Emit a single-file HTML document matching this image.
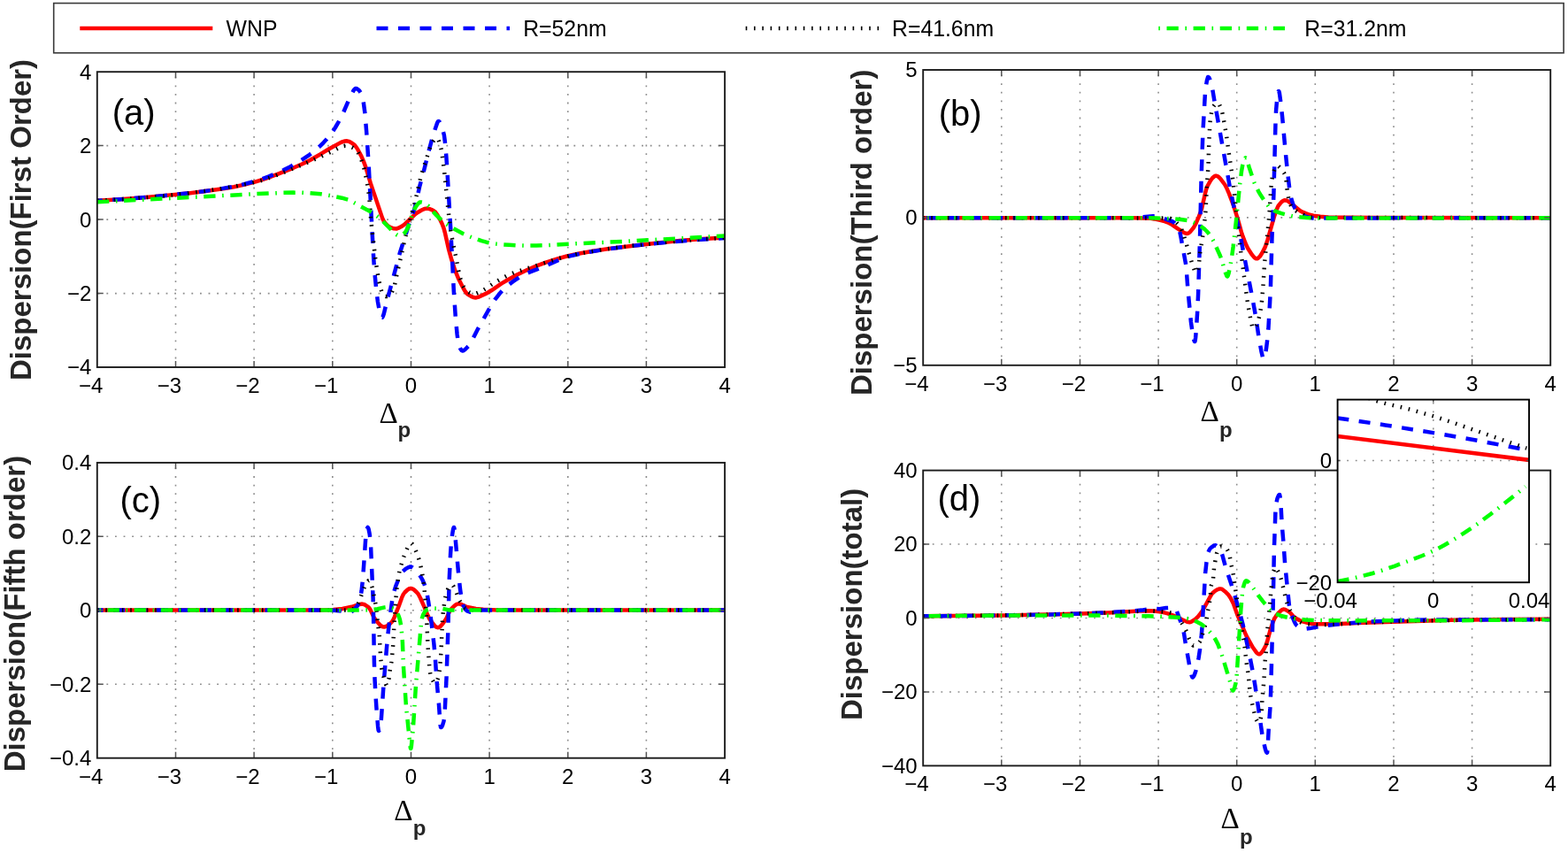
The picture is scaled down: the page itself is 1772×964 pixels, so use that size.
<!DOCTYPE html><html><head><meta charset="utf-8"><title>Dispersion</title><style>html,body{margin:0;padding:0;background:#fff;overflow:hidden;width:1772px;height:964px;}svg{display:block;}</style></head><body>
<svg width="1772" height="964" viewBox="0 0 1772 964" font-family="'Liberation Sans', Arial, sans-serif">
<rect width="1772" height="964" fill="#fff"/>
<defs>
<clipPath id="clipa"><rect x="109.8" y="81.2" width="709.3" height="333.8"/></clipPath>
<clipPath id="clipb"><rect x="1043.2" y="79.0" width="709.0" height="333.8"/></clipPath>
<clipPath id="clipc"><rect x="109.8" y="522.9" width="709.3" height="333.8"/></clipPath>
<clipPath id="clipd"><rect x="1043.2" y="531.6" width="709.0" height="333.8"/></clipPath>
<clipPath id="clipi"><rect x="1511.6" y="451.6" width="216.4" height="206.6"/></clipPath>
</defs>
<rect x="60.7" y="3.6" width="1706.4" height="56.2" fill="#fff" stroke="#3a3a3a" stroke-width="1.6"/>
<line x1="90.3" y1="32.1" x2="240.3" y2="32.1" stroke="#ff0000" stroke-width="4.5"/>
<line x1="425.5" y1="32.1" x2="576" y2="32.1" stroke="#0000ff" stroke-width="4.5" stroke-dasharray="13 11.5"/>
<line x1="842.7" y1="32.1" x2="994" y2="32.1" stroke="#000" stroke-width="4.5" stroke-dasharray="1.6 7.7"/>
<line x1="1309.3" y1="32.1" x2="1452" y2="32.1" stroke="#00ff00" stroke-width="4.5" stroke-dasharray="1.6 7.6 13.3 7.6"/>
<text transform="translate(255.6 40.6) scale(1 1.07)" font-size="24.8">WNP</text>
<text transform="translate(591.2 40.6) scale(1 1.07)" font-size="24.8">R=52nm</text>
<text transform="translate(1008.0 40.6) scale(1 1.07)" font-size="24.8">R=41.6nm</text>
<text transform="translate(1474.3 40.6) scale(1 1.07)" font-size="24.8">R=31.2nm</text>
<path d="M198.5 405.4V82.2M287.1 405.4V82.2M375.8 405.4V82.2M464.5 405.4V82.2M553.1 405.4V82.2M641.8 405.4V82.2M730.4 405.4V82.2M110.8 331.6H818.1M110.8 248.1H818.1M110.8 164.6H818.1" stroke="#8c8c8c" stroke-width="1.6" stroke-dasharray="1.8 7.8" fill="none"/>
<g clip-path="url(#clipa)">
<path d="M110.0 226.8L132.2 225.5L156.5 223.7L184.5 221.3L212.7 218.4L232.2 216.1L250.2 213.6L264.2 211.2L276.4 208.6L288.9 205.4L299.4 202.1L312.9 197.1L331.4 189.8L341.7 185.3L349.9 181.2L362.2 174.2L372.4 168.0L384.9 161.1L387.4 160.1L389.7 159.5L391.7 159.3L393.4 159.6L395.1 160.2L397.1 161.3L400.1 163.3L401.1 164.3L403.9 168.2L408.4 176.6L410.9 182.4L413.1 188.3L418.9 207.4L431.9 245.9L432.9 248.3L433.9 250.2L436.1 253.1L438.1 255.1L439.4 256.0L440.9 256.8L445.1 258.3L447.9 258.5L450.4 257.7L454.9 255.2L456.9 253.8L468.4 242.8L470.9 240.7L476.4 237.5L480.1 235.9L482.9 235.6L485.9 236.2L487.9 237.1L490.1 238.3L491.4 239.1L492.4 240.2L494.4 243.1L497.6 248.7L499.6 253.0L501.4 257.6L503.1 263.9L507.1 281.9L510.4 293.8L514.1 305.1L518.1 314.9L523.6 325.8L525.4 328.7L527.1 331.1L528.6 332.6L532.4 334.9L534.9 336.0L536.8 336.4L538.8 336.2L541.3 335.5L550.1 331.4L555.3 328.3L566.8 320.4L572.1 317.3L584.3 310.5L595.8 305.0L606.6 300.4L616.8 296.6L629.3 292.6L640.6 289.5L654.6 286.5L670.3 283.7L688.5 281.0L709.3 278.4L743.5 274.5L767.8 272.1L794.5 270.0L820.0 268.4" fill="none" stroke="#ff0000" stroke-width="4.5" stroke-linejoin="round"/>
<path d="M110.0 226.8L142.0 224.9L178.7 221.8L215.2 218.1L230.2 216.2L244.2 214.2L264.4 210.8L272.4 209.0L280.9 206.8L288.9 204.6L296.2 202.2L303.9 199.3L312.4 195.8L320.7 192.1L327.9 188.4L335.7 184.1L343.4 179.2L349.9 174.8L355.7 170.4L360.9 165.8L365.7 161.1L369.2 157.3L372.7 153.0L375.9 148.7L378.7 144.5L382.7 137.6L387.9 127.5L394.9 111.2L399.1 103.1L400.4 101.1L401.4 100.2L402.1 100.0L403.4 100.3L404.9 101.3L406.4 102.9L408.1 105.5L409.4 108.0L410.6 114.3L412.4 127.6L414.1 148.1L416.6 185.1L421.9 286.6L423.1 305.1L425.4 328.7L426.9 340.8L428.6 350.0L429.9 355.3L430.9 358.0L431.4 358.7L431.9 358.8L432.4 358.3L432.9 357.3L433.9 354.3L436.9 341.7L451.6 286.8L463.6 249.1L467.9 237.5L469.1 233.6L474.1 211.2L479.6 190.7L485.1 168.7L489.1 154.0L490.9 148.3L494.1 138.9L495.1 137.2L495.9 137.1L496.9 137.9L497.9 139.5L499.9 145.0L501.9 152.8L502.9 160.4L504.4 177.4L505.4 192.4L509.4 260.9L512.9 330.3L514.9 359.6L516.6 377.7L517.9 387.1L518.6 389.9L520.1 393.8L521.4 395.8L522.4 396.5L523.9 396.2L525.6 395.0L529.4 391.1L531.1 388.8L533.6 384.5L539.8 372.2L554.8 345.7L559.3 338.7L565.6 330.7L568.6 327.4L571.3 324.7L575.6 321.2L580.1 317.9L584.6 314.9L589.1 312.2L593.8 309.7L598.3 307.6L616.8 300.5L632.6 293.4L639.1 290.9L644.1 289.4L651.1 287.7L666.1 284.7L681.0 282.3L695.8 280.2L711.3 278.2L727.5 276.5L754.8 273.8L778.3 271.8L799.8 270.2L820.0 269.0" fill="none" stroke="#0000ff" stroke-width="4.5" stroke-dasharray="13 11.5" stroke-dashoffset="7.25" stroke-linejoin="round"/>
<path d="M110.0 226.8L131.5 225.7L154.7 224.0L181.0 221.7L210.0 218.7L229.7 216.2L248.0 213.6L265.2 210.6L281.7 207.3L290.4 205.3L298.4 203.1L307.4 200.0L317.7 196.1L351.2 182.1L376.4 170.5L383.4 166.9L386.4 165.5L388.7 164.9L390.7 164.7L392.9 164.9L395.4 165.5L398.4 166.8L401.6 168.6L402.6 169.5L403.9 171.1L405.9 174.9L408.4 180.8L410.1 185.6L411.6 190.9L414.6 204.9L416.6 217.7L417.4 224.2L419.1 247.3L420.4 259.7L424.4 293.5L427.4 313.4L429.9 324.8L431.6 330.3L433.1 332.7L434.6 334.4L435.9 335.0L437.4 334.9L440.1 333.9L441.6 332.5L443.6 328.7L445.9 322.8L448.6 309.4L453.1 290.3L457.9 268.5L468.4 230.3L470.6 221.3L474.9 202.7L476.6 196.1L485.4 168.6L486.9 164.5L489.1 160.4L490.9 157.8L492.4 156.4L493.6 156.0L494.1 156.3L494.9 157.2L496.1 159.9L498.1 166.1L499.1 170.8L502.1 193.5L506.4 236.4L509.1 259.4L510.4 266.9L515.9 293.8L518.9 309.6L520.1 314.3L521.6 318.8L522.9 321.8L524.1 324.2L526.1 327.0L527.9 328.8L530.6 330.6L532.9 331.6L534.9 332.0L537.3 331.7L539.8 330.8L545.1 328.5L549.3 326.0L558.1 319.9L561.6 317.8L572.8 311.7L581.3 308.0L589.6 305.2L605.1 300.5L628.1 293.1L637.6 290.5L646.6 288.3L660.8 285.5L675.8 282.9L694.5 280.2L714.5 277.8L742.0 274.9L771.8 272.1L796.8 270.1L820.0 268.6" fill="none" stroke="#000000" stroke-width="4.5" stroke-dasharray="1.6 7.7" stroke-linejoin="round"/>
<path d="M110.0 228.3L290.7 219.1L319.4 217.9L331.4 217.6L340.2 217.7L349.7 218.2L362.7 219.3L371.4 220.7L386.4 223.7L393.2 225.7L398.1 228.0L418.9 239.4L424.6 243.0L428.1 245.8L432.4 249.8L438.6 256.0L444.9 262.9L448.9 265.7L450.1 266.2L451.4 266.5L453.1 266.2L454.9 265.2L457.4 263.1L458.6 261.5L460.1 258.8L461.4 256.0L466.1 241.4L467.9 237.1L470.6 232.6L472.6 230.0L474.4 228.6L475.9 228.4L477.4 228.7L479.1 229.4L483.6 232.3L485.4 234.1L489.4 239.2L493.4 243.4L498.9 248.7L503.9 252.9L510.6 257.2L523.6 264.2L529.4 266.8L537.8 270.0L544.1 272.2L549.6 273.7L554.1 274.7L560.6 275.6L567.8 276.3L575.1 276.8L587.3 277.4L596.3 277.6L606.1 277.5L621.1 277.0L642.6 275.7L702.8 273.0L820.0 266.5" fill="none" stroke="#00ff00" stroke-width="4.5" stroke-dasharray="13.3 7.6 1.6 7.6" stroke-linejoin="round"/>
</g>
<path d="M198.5 415.0v-7.0M198.5 81.2v7.0M287.1 415.0v-7.0M287.1 81.2v7.0M375.8 415.0v-7.0M375.8 81.2v7.0M464.5 415.0v-7.0M464.5 81.2v7.0M553.1 415.0v-7.0M553.1 81.2v7.0M641.8 415.0v-7.0M641.8 81.2v7.0M730.4 415.0v-7.0M730.4 81.2v7.0M109.8 331.6h7.0M819.1 331.6h-7.0M109.8 248.1h7.0M819.1 248.1h-7.0M109.8 164.6h7.0M819.1 164.6h-7.0" stroke="#555" stroke-width="1.5" fill="none"/>
<rect x="109.8" y="81.2" width="709.3" height="333.8" fill="none" stroke="#1c1c1c" stroke-width="1.9"/>
<text x="116.3" y="444.0" font-size="24" text-anchor="end">−4</text>
<text x="205.0" y="444.0" font-size="24" text-anchor="end">−3</text>
<text x="293.6" y="444.0" font-size="24" text-anchor="end">−2</text>
<text x="382.3" y="444.0" font-size="24" text-anchor="end">−1</text>
<text x="464.5" y="444.0" font-size="24" text-anchor="middle">0</text>
<text x="553.1" y="444.0" font-size="24" text-anchor="middle">1</text>
<text x="641.8" y="444.0" font-size="24" text-anchor="middle">2</text>
<text x="730.4" y="444.0" font-size="24" text-anchor="middle">3</text>
<text x="819.1" y="444.0" font-size="24" text-anchor="middle">4</text>
<text x="103.3" y="423.4" font-size="24" text-anchor="end">−4</text>
<text x="103.3" y="339.9" font-size="24" text-anchor="end">−2</text>
<text x="103.3" y="256.5" font-size="24" text-anchor="end">0</text>
<text x="103.3" y="173.0" font-size="24" text-anchor="end">2</text>
<text x="103.3" y="89.6" font-size="24" text-anchor="end">4</text>
<text transform="translate(35.0 430.0) rotate(-90)" font-size="33" font-weight="bold" fill="#262626">Dispersion(First Order)</text>
<text x="126.7" y="141.2" font-size="40">(a)</text>
<text x="428.5" y="477.9" font-size="33" font-family="'Liberation Serif', serif">Δ</text>
<text x="449.5" y="494.2" font-size="24" font-weight="bold" fill="#262626">p</text>
<path d="M1131.8 403.2V80.0M1220.5 403.2V80.0M1309.1 403.2V80.0M1397.7 403.2V80.0M1486.3 403.2V80.0M1575.0 403.2V80.0M1663.6 403.2V80.0M1044.2 245.9H1751.2" stroke="#8c8c8c" stroke-width="1.6" stroke-dasharray="1.8 7.8" fill="none"/>
<g clip-path="url(#clipb)">
<path d="M1043.0 246.2L1280.7 246.2L1290.2 246.4L1300.2 246.8L1304.4 247.4L1311.2 248.8L1316.2 250.2L1320.9 252.0L1324.4 253.8L1330.9 258.4L1337.6 262.7L1339.9 263.7L1341.9 264.0L1343.4 263.4L1344.9 262.1L1349.1 257.0L1351.1 253.3L1354.6 245.4L1356.4 240.9L1357.9 236.4L1362.4 216.8L1363.4 213.2L1364.4 210.5L1367.6 204.8L1370.1 201.3L1372.4 199.3L1373.4 198.8L1374.4 198.7L1375.4 198.9L1376.6 199.5L1379.1 201.8L1384.1 208.5L1386.1 212.1L1389.1 219.1L1393.9 231.9L1398.6 246.9L1403.4 264.1L1407.4 274.8L1410.4 281.1L1414.9 287.9L1417.6 291.1L1418.9 292.0L1419.9 292.3L1420.9 292.2L1421.9 291.7L1423.9 289.7L1426.4 285.7L1429.9 278.9L1432.4 271.4L1440.4 243.4L1443.9 234.0L1444.9 232.2L1448.1 228.4L1449.9 227.0L1451.6 226.2L1453.4 226.4L1455.4 227.3L1462.6 232.8L1469.3 238.2L1471.3 239.4L1475.6 241.2L1480.1 242.8L1484.3 243.8L1492.1 244.7L1500.1 245.4L1509.3 245.8L1556.1 246.0L1752.0 246.2" fill="none" stroke="#ff0000" stroke-width="4.5" stroke-linejoin="round"/>
<path d="M1043.0 246.2L1280.4 246.2L1285.4 245.9L1300.2 244.4L1303.2 244.3L1306.2 244.6L1312.4 246.1L1324.4 250.0L1326.2 251.0L1327.6 252.2L1329.1 253.8L1330.6 255.9L1332.9 260.3L1334.1 265.7L1340.4 300.3L1342.4 326.9L1345.9 363.7L1347.4 374.3L1348.6 381.6L1349.6 385.2L1350.1 386.0L1350.4 385.9L1350.6 385.2L1351.1 381.7L1351.9 372.4L1353.4 348.8L1354.1 332.1L1355.9 274.1L1357.6 201.3L1359.4 149.5L1361.9 105.7L1362.9 97.5L1363.9 91.1L1364.9 87.5L1365.1 87.1L1365.6 87.1L1366.4 87.8L1367.4 90.1L1369.1 95.5L1369.9 98.8L1372.4 113.8L1389.9 211.6L1393.9 231.3L1398.1 249.8L1401.1 263.9L1414.6 333.0L1418.9 356.3L1422.4 380.0L1425.4 396.9L1426.9 403.3L1427.6 405.0L1428.1 405.5L1428.6 405.2L1429.1 404.1L1430.1 399.7L1431.1 393.2L1432.6 380.9L1433.4 371.3L1435.1 341.5L1435.9 325.2L1437.4 270.8L1439.4 219.5L1441.6 134.2L1442.1 124.6L1443.1 113.1L1444.1 105.4L1444.9 103.1L1445.1 103.0L1445.4 103.4L1445.9 105.1L1447.1 113.8L1449.1 131.7L1452.9 173.4L1454.9 193.3L1457.1 211.8L1458.6 221.8L1459.4 225.0L1460.9 229.7L1462.1 232.8L1463.6 235.6L1465.4 237.9L1467.9 240.5L1470.1 242.3L1472.1 243.5L1475.6 244.7L1479.6 245.8L1482.6 246.4L1485.6 246.6L1592.1 246.3L1752.0 246.2" fill="none" stroke="#0000ff" stroke-width="4.5" stroke-dasharray="13 11.5" stroke-dashoffset="20.75" stroke-linejoin="round"/>
<path d="M1043.0 246.2L1245.4 246.3L1319.9 246.5L1321.7 246.7L1323.2 247.1L1324.9 247.9L1328.4 250.4L1333.1 255.2L1334.6 257.7L1336.6 262.6L1339.9 272.5L1343.4 285.2L1347.9 300.1L1350.4 306.7L1351.1 307.8L1351.6 308.0L1352.4 307.4L1353.1 306.0L1354.6 301.4L1356.4 283.9L1359.9 262.8L1362.1 242.8L1362.6 236.6L1363.6 215.0L1365.4 189.3L1366.4 158.7L1367.1 144.0L1367.9 133.9L1369.4 125.6L1370.1 122.9L1370.9 121.0L1371.9 119.5L1373.6 117.5L1374.9 116.6L1376.1 116.3L1377.1 116.9L1378.1 118.3L1379.6 121.7L1380.9 125.3L1383.6 139.1L1385.9 152.2L1388.6 172.1L1393.6 205.3L1395.6 226.4L1398.1 248.1L1400.6 272.1L1409.6 339.4L1410.9 347.6L1413.9 363.7L1415.1 368.8L1415.9 370.6L1416.4 371.2L1416.9 371.3L1417.6 370.8L1418.9 369.2L1420.4 366.2L1422.1 361.8L1423.6 356.0L1425.4 345.6L1426.1 339.3L1427.4 324.3L1429.1 297.2L1434.4 243.2L1435.9 218.6L1437.1 205.4L1437.9 200.2L1439.9 192.9L1441.4 189.0L1442.1 187.9L1442.9 187.3L1443.6 187.2L1444.6 187.6L1446.6 189.5L1451.1 195.5L1452.6 198.4L1453.4 201.6L1454.6 214.1L1456.4 225.8L1457.4 229.7L1459.1 232.8L1460.6 234.8L1462.1 236.4L1463.9 237.9L1465.9 239.2L1470.8 241.8L1474.8 243.6L1478.3 244.9L1481.3 245.6L1484.1 246.0L1488.6 246.0L1752.0 246.2" fill="none" stroke="#000000" stroke-width="4.5" stroke-dasharray="1.6 7.7" stroke-linejoin="round"/>
<path d="M1043.0 246.2L1293.9 246.2L1307.9 246.5L1325.7 247.3L1334.4 248.0L1342.1 249.0L1345.4 249.9L1349.1 251.4L1353.4 253.6L1358.1 256.5L1360.9 258.6L1363.4 261.0L1365.9 263.8L1368.4 267.0L1371.4 272.4L1378.9 289.0L1380.9 294.3L1383.6 304.3L1385.4 309.5L1386.4 312.0L1386.9 312.5L1387.1 312.5L1387.6 311.8L1388.4 309.4L1390.4 300.2L1391.9 291.4L1393.6 279.1L1397.6 243.8L1400.9 210.3L1403.1 193.1L1404.1 187.5L1405.4 183.0L1406.6 179.5L1407.1 178.7L1407.6 178.3L1408.4 178.8L1409.1 180.4L1411.6 188.9L1416.1 202.5L1417.6 206.6L1419.4 210.6L1422.1 216.1L1424.9 220.8L1429.1 227.1L1432.6 231.8L1434.6 234.2L1436.6 236.0L1438.4 237.2L1441.4 238.7L1444.4 239.9L1448.1 241.1L1460.4 244.3L1464.4 244.9L1476.6 245.9L1486.1 246.4L1494.8 246.6L1642.5 246.5L1752.0 246.2" fill="none" stroke="#00ff00" stroke-width="4.5" stroke-dasharray="13.3 7.6 1.6 7.6" stroke-dashoffset="15.75" stroke-linejoin="round"/>
</g>
<path d="M1131.8 412.8v-7.0M1131.8 79.0v7.0M1220.5 412.8v-7.0M1220.5 79.0v7.0M1309.1 412.8v-7.0M1309.1 79.0v7.0M1397.7 412.8v-7.0M1397.7 79.0v7.0M1486.3 412.8v-7.0M1486.3 79.0v7.0M1575.0 412.8v-7.0M1575.0 79.0v7.0M1663.6 412.8v-7.0M1663.6 79.0v7.0M1043.2 245.9h7.0M1752.2 245.9h-7.0" stroke="#555" stroke-width="1.5" fill="none"/>
<rect x="1043.2" y="79.0" width="709.0" height="333.8" fill="none" stroke="#1c1c1c" stroke-width="1.9"/>
<text x="1049.7" y="441.8" font-size="24" text-anchor="end">−4</text>
<text x="1138.3" y="441.8" font-size="24" text-anchor="end">−3</text>
<text x="1227.0" y="441.8" font-size="24" text-anchor="end">−2</text>
<text x="1315.6" y="441.8" font-size="24" text-anchor="end">−1</text>
<text x="1397.7" y="441.8" font-size="24" text-anchor="middle">0</text>
<text x="1486.3" y="441.8" font-size="24" text-anchor="middle">1</text>
<text x="1575.0" y="441.8" font-size="24" text-anchor="middle">2</text>
<text x="1663.6" y="441.8" font-size="24" text-anchor="middle">3</text>
<text x="1752.2" y="441.8" font-size="24" text-anchor="middle">4</text>
<text x="1036.7" y="421.2" font-size="24" text-anchor="end">−5</text>
<text x="1036.7" y="254.3" font-size="24" text-anchor="end">0</text>
<text x="1036.7" y="87.4" font-size="24" text-anchor="end">5</text>
<text transform="translate(985.0 447.1) rotate(-90)" font-size="33" font-weight="bold" fill="#262626">Dispersion(Third order)</text>
<text x="1060.8" y="142.4" font-size="40">(b)</text>
<text x="1356.6" y="476.2" font-size="33" font-family="'Liberation Serif', serif">Δ</text>
<text x="1378.0" y="494.2" font-size="24" font-weight="bold" fill="#262626">p</text>
<path d="M198.5 847.1V523.9M287.1 847.1V523.9M375.8 847.1V523.9M464.5 847.1V523.9M553.1 847.1V523.9M641.8 847.1V523.9M730.4 847.1V523.9M110.8 773.2H818.1M110.8 689.8H818.1M110.8 606.3H818.1" stroke="#8c8c8c" stroke-width="1.6" stroke-dasharray="1.8 7.8" fill="none"/>
<g clip-path="url(#clipc)">
<path d="M110.0 689.6L364.4 689.5L376.7 689.0L386.9 688.0L397.6 685.8L406.1 683.0L409.4 682.6L410.9 682.9L412.6 683.6L416.6 686.3L418.4 688.9L422.6 697.8L426.1 702.5L428.6 705.4L430.6 707.3L432.4 708.3L434.1 708.5L436.1 708.0L438.1 706.9L440.9 704.8L443.1 702.5L444.4 700.4L445.9 697.1L450.6 685.2L454.1 675.4L455.9 671.5L457.4 669.5L460.6 666.5L462.6 665.3L464.4 665.0L466.1 665.4L467.9 666.5L470.6 669.0L472.6 671.3L475.1 676.0L479.9 686.8L483.6 695.8L485.4 699.4L488.6 704.0L490.9 706.8L492.9 708.6L494.6 709.2L495.9 709.0L497.4 708.1L499.1 706.4L501.1 703.8L504.1 699.6L507.9 691.4L509.4 688.9L512.4 685.7L514.4 684.0L516.1 682.9L517.9 682.4L519.4 682.5L520.9 682.9L526.1 685.3L527.9 685.9L537.8 687.9L546.1 688.8L562.1 689.5L820.0 689.6" fill="none" stroke="#ff0000" stroke-width="4.5" stroke-linejoin="round"/>
<path d="M110.0 689.6L370.9 689.6L377.2 689.8L385.2 690.5L392.4 692.3L394.1 692.5L395.4 692.4L396.9 691.7L398.4 690.5L401.6 687.4L403.4 685.3L404.6 683.3L405.9 680.7L407.1 676.4L408.6 667.7L410.1 653.8L413.4 605.8L414.6 598.3L415.1 596.6L415.6 596.0L416.1 596.6L416.6 598.0L417.6 603.0L418.6 610.3L419.1 618.0L421.6 676.2L422.1 698.1L422.9 748.6L423.4 765.2L424.4 784.6L425.4 799.6L427.1 821.0L427.6 825.0L427.9 825.9L428.1 826.0L428.6 825.3L429.4 822.9L430.6 816.3L433.6 772.6L437.4 727.2L438.9 712.6L441.4 691.8L443.6 675.7L445.1 669.2L447.1 662.8L450.6 653.9L453.1 648.6L455.1 645.8L458.1 643.2L461.1 641.3L463.6 640.5L464.4 640.5L465.1 640.7L466.6 641.8L472.1 647.3L475.6 652.0L477.6 655.6L479.6 660.3L481.4 665.6L482.6 670.7L484.1 679.6L487.4 702.3L490.4 727.7L491.9 744.5L493.4 767.9L495.9 795.2L497.6 819.1L497.9 821.0L498.1 821.9L498.4 822.0L498.9 821.7L499.4 821.1L500.1 819.6L501.4 815.3L502.4 810.3L504.6 764.7L506.4 711.4L507.6 658.1L509.1 625.8L509.9 614.4L510.9 605.7L511.9 599.2L512.4 597.1L512.9 596.1L513.1 596.1L513.4 596.8L514.1 602.3L517.9 645.8L519.9 664.9L521.1 673.6L522.9 681.5L523.6 683.9L524.9 686.5L526.1 688.6L527.4 690.1L528.4 690.7L530.4 691.4L531.9 691.8L533.4 691.7L538.1 690.5L542.3 689.8L544.8 689.6L820.0 689.6" fill="none" stroke="#0000ff" stroke-width="4.5" stroke-dasharray="13 11.5" stroke-dashoffset="6.50" stroke-linejoin="round"/>
<path d="M110.0 689.6L389.9 689.6L393.4 689.4L396.6 688.9L400.1 687.9L401.4 687.1L402.9 685.3L405.1 681.7L405.9 680.1L409.6 668.9L412.9 660.9L413.9 659.1L415.4 657.1L416.4 656.2L417.1 656.0L417.6 656.4L418.4 657.7L420.6 664.1L422.1 670.7L424.4 682.5L425.6 691.1L427.1 706.1L428.6 716.2L429.9 738.8L431.1 754.2L432.1 759.7L435.1 770.4L436.1 773.5L436.9 774.5L437.4 774.2L438.1 772.5L439.6 766.3L440.9 756.2L442.4 747.8L442.9 743.9L444.4 726.4L445.6 703.0L447.6 674.5L448.6 663.9L450.4 651.3L451.6 645.0L452.9 640.0L456.4 629.1L460.9 618.0L462.9 615.1L463.6 614.4L464.4 614.0L465.1 614.2L465.9 614.8L467.9 617.6L469.1 620.4L472.4 628.9L473.9 633.6L475.1 638.3L477.6 650.7L479.6 666.1L481.1 683.6L482.1 698.5L483.6 731.2L485.6 757.5L486.4 762.0L487.6 766.1L489.9 770.5L490.6 771.5L491.4 772.0L492.1 771.7L492.9 770.9L494.6 767.4L495.9 762.7L496.9 756.7L497.6 748.9L498.4 737.9L500.1 700.1L500.9 691.2L502.6 678.4L503.9 672.5L506.1 666.1L507.1 664.2L507.9 663.1L509.4 661.7L510.6 661.0L511.1 661.0L511.6 661.3L512.6 662.7L515.6 669.3L519.4 678.8L521.9 682.9L524.1 685.9L525.6 687.3L526.9 688.0L530.9 688.8L535.1 689.4L540.1 689.6L820.0 689.6" fill="none" stroke="#000000" stroke-width="4.5" stroke-dasharray="1.6 7.7" stroke-linejoin="round"/>
<path d="M110.0 689.6L409.4 689.6L416.4 689.3L426.6 688.2L434.6 686.4L437.1 686.0L440.1 686.2L443.6 687.4L445.4 688.2L446.4 689.2L448.6 692.5L450.1 695.2L451.1 697.7L451.9 700.2L453.4 708.4L454.9 725.6L455.9 752.4L458.9 797.4L463.4 842.0L463.9 845.3L464.1 846.0L464.4 845.8L464.9 843.0L466.9 822.7L469.9 775.8L476.1 702.9L476.9 698.8L478.1 694.8L480.4 690.9L481.4 689.9L482.4 689.3L486.4 687.9L490.1 687.5L500.4 688.0L507.4 689.4L509.9 689.6L820.0 689.6" fill="none" stroke="#00ff00" stroke-width="4.5" stroke-dasharray="13.3 7.6 1.6 7.6" stroke-dashoffset="18.50" stroke-linejoin="round"/>
</g>
<path d="M198.5 856.7v-7.0M198.5 522.9v7.0M287.1 856.7v-7.0M287.1 522.9v7.0M375.8 856.7v-7.0M375.8 522.9v7.0M464.5 856.7v-7.0M464.5 522.9v7.0M553.1 856.7v-7.0M553.1 522.9v7.0M641.8 856.7v-7.0M641.8 522.9v7.0M730.4 856.7v-7.0M730.4 522.9v7.0M109.8 773.2h7.0M819.1 773.2h-7.0M109.8 689.8h7.0M819.1 689.8h-7.0M109.8 606.3h7.0M819.1 606.3h-7.0" stroke="#555" stroke-width="1.5" fill="none"/>
<rect x="109.8" y="522.9" width="709.3" height="333.8" fill="none" stroke="#1c1c1c" stroke-width="1.9"/>
<text x="116.3" y="885.7" font-size="24" text-anchor="end">−4</text>
<text x="205.0" y="885.7" font-size="24" text-anchor="end">−3</text>
<text x="293.6" y="885.7" font-size="24" text-anchor="end">−2</text>
<text x="382.3" y="885.7" font-size="24" text-anchor="end">−1</text>
<text x="464.5" y="885.7" font-size="24" text-anchor="middle">0</text>
<text x="553.1" y="885.7" font-size="24" text-anchor="middle">1</text>
<text x="641.8" y="885.7" font-size="24" text-anchor="middle">2</text>
<text x="730.4" y="885.7" font-size="24" text-anchor="middle">3</text>
<text x="819.1" y="885.7" font-size="24" text-anchor="middle">4</text>
<text x="103.3" y="865.1" font-size="24" text-anchor="end">−0.4</text>
<text x="103.3" y="781.6" font-size="24" text-anchor="end">−0.2</text>
<text x="103.3" y="698.2" font-size="24" text-anchor="end">0</text>
<text x="103.3" y="614.7" font-size="24" text-anchor="end">0.2</text>
<text x="103.3" y="531.3" font-size="24" text-anchor="end">0.4</text>
<text transform="translate(28.0 872.3) rotate(-90)" font-size="33" font-weight="bold" fill="#262626">Dispersion(Fifth order)</text>
<text x="135.5" y="579.2" font-size="40">(c)</text>
<text x="445.3" y="927.4" font-size="33" font-family="'Liberation Serif', serif">Δ</text>
<text x="466.8" y="943.5" font-size="24" font-weight="bold" fill="#262626">p</text>
<path d="M1131.8 855.8V532.6M1220.5 855.8V532.6M1309.1 855.8V532.6M1397.7 855.8V532.6M1486.3 855.8V532.6M1575.0 855.8V532.6M1663.6 855.8V532.6M1044.2 782.0H1751.2M1044.2 698.5H1751.2M1044.2 615.0H1751.2" stroke="#8c8c8c" stroke-width="1.6" stroke-dasharray="1.8 7.8" fill="none"/>
<g clip-path="url(#clipd)">
<path d="M1043.0 696.3L1134.7 695.4L1204.4 694.1L1237.7 693.1L1265.2 691.9L1287.7 690.5L1298.7 690.3L1304.2 690.6L1310.2 691.2L1313.7 691.9L1319.7 693.4L1323.9 694.8L1328.1 696.3L1335.4 700.0L1341.1 702.5L1342.9 703.1L1344.4 703.2L1345.6 702.9L1347.1 702.2L1351.1 699.5L1353.1 697.7L1355.4 695.1L1359.4 689.5L1367.9 673.9L1369.1 671.8L1370.4 670.2L1373.1 667.9L1375.6 666.3L1377.6 665.6L1379.4 665.4L1380.4 665.6L1381.6 666.2L1384.4 668.4L1387.9 671.8L1390.6 675.8L1393.9 682.2L1398.6 695.4L1408.4 718.4L1415.9 731.8L1420.1 737.6L1421.6 738.9L1422.9 739.3L1423.6 739.2L1424.4 738.8L1426.1 737.0L1428.1 734.0L1430.6 729.3L1432.1 724.8L1435.6 711.9L1438.4 703.4L1440.1 699.4L1442.1 696.1L1444.4 693.2L1448.1 689.7L1449.4 688.9L1450.4 688.6L1451.6 688.7L1452.9 689.1L1456.6 691.2L1458.1 692.6L1461.1 696.0L1462.6 697.5L1465.6 699.4L1468.6 701.0L1472.1 702.4L1477.6 703.9L1481.8 704.8L1485.6 705.2L1500.1 705.3L1508.1 705.2L1534.8 704.0L1566.1 702.9L1640.5 700.7L1702.0 700.0L1752.0 699.7" fill="none" stroke="#ff0000" stroke-width="4.5" stroke-linejoin="round"/>
<path d="M1043.0 696.3L1089.7 695.9L1147.7 695.2L1187.4 694.4L1223.2 693.4L1244.9 692.5L1275.2 690.8L1290.4 689.6L1300.4 687.9L1302.9 687.8L1310.4 688.2L1317.7 687.0L1322.9 686.8L1324.9 686.9L1326.2 687.4L1327.4 688.2L1329.4 690.0L1329.9 690.7L1334.9 704.2L1336.6 709.7L1338.1 716.3L1340.1 729.1L1344.6 754.4L1346.6 763.2L1347.4 765.2L1347.9 765.5L1348.6 764.9L1349.4 763.6L1350.6 760.6L1351.4 758.1L1354.6 743.4L1356.1 733.3L1357.6 720.1L1358.6 708.1L1362.1 648.0L1363.4 635.9L1364.4 628.8L1365.4 624.3L1366.4 621.9L1367.6 619.9L1369.4 618.3L1371.4 616.9L1373.1 616.3L1374.4 616.5L1376.1 617.8L1378.1 620.4L1379.9 623.2L1381.1 626.4L1385.6 642.7L1392.4 663.1L1395.9 674.5L1401.6 694.6L1404.4 705.1L1411.6 738.0L1416.1 760.8L1418.4 774.9L1426.9 833.4L1429.9 846.5L1430.9 849.4L1431.4 850.3L1431.9 850.7L1432.1 850.5L1432.6 844.9L1433.9 820.6L1435.4 800.2L1436.1 783.0L1438.6 688.4L1439.9 620.7L1441.4 578.6L1442.1 571.1L1443.1 565.0L1443.6 563.1L1444.4 561.2L1445.1 559.7L1445.9 559.0L1446.1 559.1L1446.6 561.3L1447.4 568.4L1448.6 591.6L1450.6 614.9L1452.1 636.8L1456.9 684.0L1457.9 689.1L1459.1 693.5L1460.4 696.9L1463.1 703.3L1464.1 705.2L1465.1 706.5L1466.9 708.0L1468.8 709.1L1472.8 710.6L1476.1 710.6L1480.3 710.1L1491.1 708.1L1507.1 706.0L1519.6 704.7L1546.6 702.5L1577.1 701.4L1598.8 700.8L1618.8 700.5L1752.0 700.2" fill="none" stroke="#0000ff" stroke-width="4.5" stroke-dasharray="13 11.5" stroke-dashoffset="5.00" stroke-linejoin="round"/>
<path d="M1043.0 696.3L1131.2 695.4L1195.9 694.2L1236.9 693.1L1293.4 690.5L1303.2 690.6L1316.4 691.5L1321.2 692.1L1325.2 693.0L1327.1 694.1L1329.1 696.0L1334.9 703.2L1338.4 708.6L1341.1 714.1L1343.9 721.8L1347.1 728.2L1347.9 729.1L1348.6 729.5L1351.4 729.2L1352.6 728.7L1353.9 727.7L1355.6 725.6L1356.4 724.2L1358.4 718.5L1363.1 702.7L1363.6 700.1L1364.6 692.5L1366.4 684.0L1367.1 679.3L1367.9 672.3L1368.4 664.2L1368.9 661.7L1370.4 657.9L1370.9 655.5L1371.4 648.2L1372.1 641.4L1373.9 630.9L1375.1 625.1L1377.1 620.2L1378.6 617.9L1379.6 617.4L1382.6 617.9L1384.9 618.8L1386.4 620.2L1388.1 623.4L1389.6 627.5L1390.9 636.5L1392.9 644.2L1393.6 648.0L1400.4 695.3L1402.4 707.1L1404.9 719.2L1406.1 726.4L1408.4 747.2L1410.9 763.9L1412.6 781.7L1413.6 788.2L1414.9 794.4L1418.6 810.4L1419.1 811.8L1420.6 814.7L1421.6 816.1L1422.4 816.5L1423.1 816.1L1423.9 814.6L1424.9 810.9L1425.6 806.8L1426.6 787.9L1428.4 769.3L1429.4 750.0L1431.1 733.6L1432.1 714.1L1433.9 696.6L1436.9 661.4L1437.9 653.5L1439.1 646.4L1440.4 642.8L1440.9 641.8L1441.4 641.3L1441.9 641.4L1442.4 642.0L1444.4 645.7L1445.9 649.0L1447.4 653.0L1448.6 657.2L1453.6 678.7L1455.6 684.6L1457.9 689.7L1461.4 695.7L1462.9 697.8L1464.4 699.5L1467.1 701.5L1469.8 703.2L1472.1 704.3L1474.3 704.9L1484.6 705.9L1495.3 706.0L1509.1 705.5L1577.3 702.2L1596.1 701.6L1678.8 700.4L1752.0 700.0" fill="none" stroke="#000000" stroke-width="4.5" stroke-dasharray="1.6 7.7" stroke-linejoin="round"/>
<path d="M1043.0 696.3L1086.5 695.8L1135.7 695.5L1215.9 695.4L1251.2 695.6L1298.2 696.3L1322.2 697.2L1334.1 698.0L1339.6 698.7L1343.9 699.5L1347.9 700.7L1352.1 702.5L1356.4 704.7L1359.6 706.9L1363.4 710.2L1367.9 714.9L1370.9 718.6L1373.4 722.4L1376.4 728.1L1379.6 736.8L1381.9 743.5L1389.9 769.8L1392.1 778.4L1392.9 780.2L1393.4 780.5L1393.9 780.1L1394.4 779.1L1395.4 776.1L1396.6 771.6L1397.4 767.0L1402.4 688.2L1404.1 668.8L1404.9 664.1L1405.9 660.6L1407.1 657.4L1407.6 656.7L1408.1 656.3L1408.9 656.4L1409.6 656.7L1411.4 658.4L1416.6 665.1L1422.6 673.7L1427.4 679.9L1434.6 688.3L1438.1 691.7L1439.6 692.7L1441.9 693.9L1446.9 695.7L1455.1 697.8L1462.9 699.2L1475.3 700.4L1485.8 701.0L1528.1 701.4L1647.5 701.2L1752.0 700.2" fill="none" stroke="#00ff00" stroke-width="4.5" stroke-dasharray="13.3 7.6 1.6 7.6" stroke-dashoffset="23.50" stroke-linejoin="round"/>
</g>
<path d="M1131.8 865.4v-7.0M1131.8 531.6v7.0M1220.5 865.4v-7.0M1220.5 531.6v7.0M1309.1 865.4v-7.0M1309.1 531.6v7.0M1397.7 865.4v-7.0M1397.7 531.6v7.0M1486.3 865.4v-7.0M1486.3 531.6v7.0M1575.0 865.4v-7.0M1575.0 531.6v7.0M1663.6 865.4v-7.0M1663.6 531.6v7.0M1043.2 782.0h7.0M1752.2 782.0h-7.0M1043.2 698.5h7.0M1752.2 698.5h-7.0M1043.2 615.0h7.0M1752.2 615.0h-7.0" stroke="#555" stroke-width="1.5" fill="none"/>
<rect x="1043.2" y="531.6" width="709.0" height="333.8" fill="none" stroke="#1c1c1c" stroke-width="1.9"/>
<text x="1049.7" y="894.4" font-size="24" text-anchor="end">−4</text>
<text x="1138.3" y="894.4" font-size="24" text-anchor="end">−3</text>
<text x="1227.0" y="894.4" font-size="24" text-anchor="end">−2</text>
<text x="1315.6" y="894.4" font-size="24" text-anchor="end">−1</text>
<text x="1397.7" y="894.4" font-size="24" text-anchor="middle">0</text>
<text x="1486.3" y="894.4" font-size="24" text-anchor="middle">1</text>
<text x="1575.0" y="894.4" font-size="24" text-anchor="middle">2</text>
<text x="1663.6" y="894.4" font-size="24" text-anchor="middle">3</text>
<text x="1752.2" y="894.4" font-size="24" text-anchor="middle">4</text>
<text x="1036.7" y="873.8" font-size="24" text-anchor="end">−40</text>
<text x="1036.7" y="790.4" font-size="24" text-anchor="end">−20</text>
<text x="1036.7" y="706.9" font-size="24" text-anchor="end">0</text>
<text x="1036.7" y="623.4" font-size="24" text-anchor="end">20</text>
<text x="1036.7" y="540.0" font-size="24" text-anchor="end">40</text>
<text transform="translate(974.0 814.0) rotate(-90)" font-size="33" font-weight="bold" fill="#262626">Dispersion(total)</text>
<text x="1059.5" y="577.4" font-size="40">(d)</text>
<text x="1379.5" y="935.9" font-size="33" font-family="'Liberation Serif', serif">Δ</text>
<text x="1401.0" y="953.5" font-size="24" font-weight="bold" fill="#262626">p</text>
<rect x="1511.6" y="451.6" width="216.4" height="206.6" fill="#fff"/>
<path d="M1619.8 648.6V452.6M1512.6 520.5H1727.0" stroke="#8c8c8c" stroke-width="1.6" stroke-dasharray="1.8 7.8" fill="none"/>
<g clip-path="url(#clipi)">
<path d="M1511.4 492.9L1728.1 519.9" fill="none" stroke="#ff0000" stroke-width="4.5"/>
<path d="M1511.4 472.4L1565.6 480.4L1622.5 489.6L1672.7 498.4L1725.2 508.4" fill="none" stroke="#0000ff" stroke-width="4.5" stroke-dasharray="13 11.5"/>
<path d="M1530.0 442.0L1544.0 448.6L1550.2 451.2L1556.0 453.2L1566.2 456.2L1585.0 460.5L1593.0 462.6L1608.2 466.9L1622.0 471.0L1639.2 476.7L1725.2 506.6" fill="none" stroke="#000000" stroke-width="4.5" stroke-dasharray="1.6 7.7"/>
<path d="M1511.4 657.2L1523.4 654.8L1535.9 652.0L1550.9 648.0L1560.9 645.0L1575.9 639.8L1607.3 628.0L1615.8 624.5L1623.6 620.8L1632.8 615.8L1643.1 609.7L1655.3 601.9L1669.3 592.4L1685.0 580.7L1708.5 562.4L1724.0 550.0" fill="none" stroke="#00ff00" stroke-width="4.5" stroke-dasharray="13.3 7.6 1.6 7.6"/>
</g>
<path d="M1619.8 658.2v-3M1619.8 451.6v3M1511.6 520.5h3M1728.0 520.5h-3" stroke="#555" stroke-width="1.5" fill="none"/>
<rect x="1511.6" y="451.6" width="216.4" height="206.6" fill="none" stroke="#000" stroke-width="1.9"/>
<text x="1505.1" y="528.9" font-size="24" text-anchor="end">0</text>
<text x="1505.1" y="666.6" font-size="24" text-anchor="end">−20</text>
<text x="1503.6" y="687.2" font-size="24" text-anchor="middle">−0.04</text>
<text x="1619.8" y="687.2" font-size="24" text-anchor="middle">0</text>
<text x="1728.0" y="687.2" font-size="24" text-anchor="middle">0.04</text>
</svg></body></html>
